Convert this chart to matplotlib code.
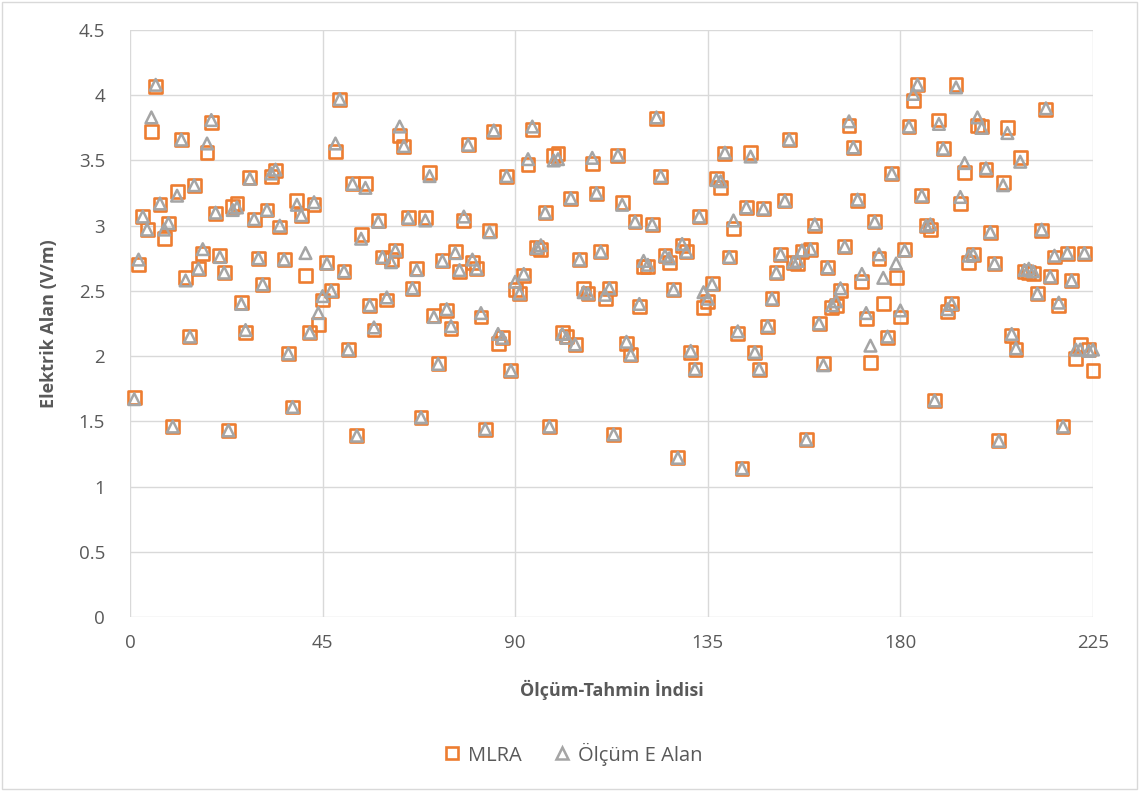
import matplotlib
matplotlib.use("Agg")
import matplotlib.pyplot as plt
from matplotlib.patches import Rectangle
from matplotlib.lines import Line2D

plt.rcParams['font.family'] = ['Open Sans', 'DejaVu Sans']

mlra = [1.68, 2.70, 3.07, 2.97, 3.72, 4.07, 3.16, 2.90, 3.02, 1.46,
        3.26, 3.66, 2.60, 2.15, 3.31, 2.67, 2.79, 3.56, 3.79, 3.09,
        2.77, 2.64, 1.43, 3.15, 3.17, 2.41, 2.18, 3.37, 3.05, 2.75,
        2.55, 3.12, 3.38, 3.42, 2.99, 2.74, 2.02, 1.61, 3.19, 3.08,
        2.62, 2.18, 3.16, 2.24, 2.43, 2.72, 2.50, 3.57, 3.97, 2.65,
        2.05, 3.32, 1.39, 2.93, 3.32, 2.39, 2.20, 3.04, 2.76, 2.43,
        2.74, 2.81, 3.69, 3.61, 3.06, 2.52, 2.67, 1.53, 3.06, 3.41,
        2.31, 1.94, 2.73, 2.35, 2.21, 2.80, 2.65, 3.04, 3.62, 2.72,
        2.67, 2.30, 1.44, 2.96, 3.72, 2.10, 2.14, 3.38, 1.89, 2.51,
        2.48, 2.62, 3.47, 3.74, 2.83, 2.82, 3.10, 1.46, 3.54, 3.55,
        2.18, 2.15, 3.21, 2.09, 2.74, 2.52, 2.48, 3.48, 3.25, 2.80,
        2.44, 2.52, 1.40, 3.54, 3.18, 2.10, 2.01, 3.03, 2.38, 2.69,
        2.69, 3.01, 3.82, 3.38, 2.77, 2.72, 2.51, 1.22, 2.85, 2.80,
        2.03, 1.90, 3.07, 2.37, 2.42, 2.56, 3.36, 3.29, 3.55, 2.76,
        2.98, 2.17, 1.14, 3.14, 3.56, 2.03, 1.90, 3.13, 2.23, 2.44,
        2.64, 2.78, 3.19, 3.66, 2.72, 2.71, 2.80, 1.36, 2.82, 3.00,
        2.25, 1.94, 2.68, 2.37, 2.39, 2.50, 2.84, 3.77, 3.60, 3.19,
        2.57, 2.29, 1.95, 3.03, 2.75, 2.40, 2.14, 3.40, 2.60, 2.30,
        2.82, 3.76, 3.96, 4.08, 3.23, 3.00, 2.97, 1.66, 3.81, 3.59,
        2.34, 2.40, 4.08, 3.17, 3.41, 2.72, 2.78, 3.77, 3.76, 3.43,
        2.95, 2.71, 1.35, 3.33, 3.75, 2.16, 2.05, 3.52, 2.65, 2.64,
        2.63, 2.48, 2.96, 3.89, 2.61, 2.76, 2.39, 1.46, 2.79, 2.58,
        1.98, 2.09, 2.79, 2.05, 1.89]

olcum = [1.67, 2.74, 3.07, 2.97, 3.83, 4.08, 3.17, 2.97, 3.02, 1.46,
         3.23, 3.66, 2.58, 2.15, 3.31, 2.67, 2.82, 3.63, 3.81, 3.10,
         2.76, 2.64, 1.43, 3.12, 3.14, 2.40, 2.20, 3.36, 3.05, 2.75,
         2.55, 3.12, 3.40, 3.43, 3.00, 2.74, 2.02, 1.61, 3.16, 3.08,
         2.79, 2.18, 3.18, 2.33, 2.46, 2.71, 2.50, 3.63, 3.97, 2.65,
         2.05, 3.32, 1.39, 2.90, 3.29, 2.39, 2.22, 3.03, 2.76, 2.45,
         2.72, 2.81, 3.76, 3.61, 3.06, 2.52, 2.66, 1.53, 3.04, 3.38,
         2.30, 1.94, 2.73, 2.36, 2.23, 2.79, 2.66, 3.07, 3.62, 2.74,
         2.67, 2.33, 1.44, 2.95, 3.73, 2.17, 2.14, 3.38, 1.89, 2.57,
         2.48, 2.63, 3.51, 3.76, 2.83, 2.85, 3.10, 1.46, 3.50, 3.51,
         2.17, 2.14, 3.21, 2.09, 2.74, 2.49, 2.48, 3.52, 3.25, 2.80,
         2.47, 2.52, 1.40, 3.54, 3.16, 2.11, 2.01, 3.03, 2.40, 2.73,
         2.70, 3.01, 3.83, 3.38, 2.77, 2.75, 2.51, 1.22, 2.86, 2.80,
         2.04, 1.90, 3.07, 2.49, 2.44, 2.55, 3.35, 3.34, 3.56, 2.76,
         3.04, 2.19, 1.14, 3.14, 3.53, 2.03, 1.90, 3.13, 2.23, 2.44,
         2.64, 2.78, 3.19, 3.66, 2.72, 2.73, 2.81, 1.36, 2.82, 3.01,
         2.25, 1.93, 2.68, 2.39, 2.42, 2.52, 2.84, 3.80, 3.60, 3.20,
         2.63, 2.33, 2.08, 3.03, 2.78, 2.60, 2.15, 3.40, 2.71, 2.35,
         2.81, 3.76, 4.01, 4.08, 3.23, 3.00, 3.01, 1.66, 3.78, 3.59,
         2.36, 2.40, 4.06, 3.22, 3.48, 2.77, 2.78, 3.83, 3.75, 3.44,
         2.95, 2.71, 1.35, 3.31, 3.71, 2.17, 2.06, 3.49, 2.66, 2.67,
         2.65, 2.48, 2.97, 3.90, 2.61, 2.77, 2.41, 1.46, 2.79, 2.58,
         2.05, 2.05, 2.79, 2.04, 2.05]

index = list(range(1, len(mlra) + 1))
x_ticks = [0, 45, 90, 135, 180, 225]
y_ticks = [0, 0.5, 1, 1.5, 2, 2.5, 3, 3.5, 4, 4.5]
y_labels = ['0', '0.5', '1', '1.5', '2', '2.5', '3', '3.5', '4', '4.5']

orange = '#ED7D31'
gray = '#A5A5A5'
txt = '#595959'
grid = '#D9D9D9'

fig = plt.figure(figsize=(11.39, 7.91), dpi=100)
ax = fig.add_axes([130/1139, 1-617/791, (1093-130)/1139, (617-30)/791])

ax.scatter(index, mlra, marker='s', s=9.3**2, facecolors='none',
           edgecolors=orange, linewidths=1.9, zorder=3, clip_on=False)
ax.scatter(index, olcum, marker='^', s=8.4**2, facecolors='none',
           edgecolors=gray, linewidths=1.8, zorder=4, clip_on=False)

ax.set_xlim(0, 225)
ax.set_ylim(0, 4.5)
ax.set_xticks(x_ticks)
ax.set_yticks(y_ticks)
ax.set_yticklabels(y_labels)
ax.grid(True, color=grid, linewidth=1.0)
ax.set_axisbelow(True)
for s in ax.spines.values():
    s.set_visible(False)
ax.tick_params(length=0, labelsize=13.5, colors=txt)
ax.tick_params(axis='y', pad=18)
ax.tick_params(axis='x', pad=12)

ax.set_xlabel('Ölçüm-Tahmin İndisi', fontsize=13, fontweight='bold', color=txt, labelpad=20)
ax.set_ylabel('Elektrik Alan (V/m)', fontsize=13, fontweight='bold', color=txt, labelpad=15)

handles = [Line2D([], [], marker='s', linestyle='none', markersize=9.3, markerfacecolor='none',
                  markeredgecolor=orange, markeredgewidth=1.9, label='MLRA'),
           Line2D([], [], marker='^', linestyle='none', markersize=8.4, markerfacecolor='none',
                  markeredgecolor=gray, markeredgewidth=1.8, label='Ölçüm E Alan')]
leg = fig.legend(handles=handles, loc='center', bbox_to_anchor=(573/1139, 1-754/791), ncol=2,
                 frameon=False, fontsize=14.5, handlelength=0.8, handletextpad=0.4, columnspacing=1.6)
for t in leg.get_texts():
    t.set_color(txt)

fig.add_artist(Rectangle((0.002, 0.002), 0.996, 0.996, transform=fig.transFigure,
                         fill=False, edgecolor=grid, linewidth=1.0))

fig.savefig('out.png', dpi=100)
